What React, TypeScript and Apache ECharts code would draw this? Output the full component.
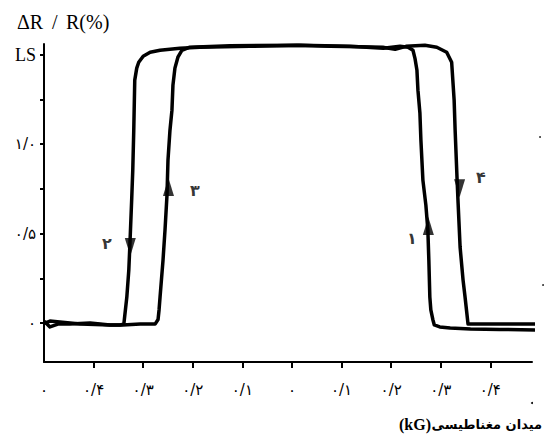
import React, { useEffect, useRef } from "react";
import * as echarts from "echarts";

// ---- axis ticks & labels ----
const xTickValues = [-0.4, -0.3, -0.2, -0.1, 0, 0.1, 0.2, 0.3, 0.4];
const xLabelValues = [-0.5, -0.4, -0.3, -0.2, -0.1, 0, 0.1, 0.2, 0.3, 0.4];
const xLabelTexts = ["۰", "۰/۴", "۰/۳", "۰/۲", "۰/۱", "۰", "۰/۱", "۰/۲", "۰/۳", "۰/۴"];
const yTickValues = [0, 0.25, 0.5, 0.75, 1, 1.25, 1.5];
const yLabelValues = [0, 0.5, 1, 1.5];
const yLabelTexts = ["۰", "۰/۵", "۱/۰", "LS"];

// ---- sweep toward +H (branches ۳ and ۴) ----
const sweepUp: [number, number][] = [
  [-0.498, 0.006], [-0.488, -0.022], [-0.472, -0.006], [-0.448, -0.006], [-0.407, 0],
  [-0.367, -0.011], [-0.341, -0.011], [-0.306, -0.006], [-0.276, -0.006], [-0.27, 0.02],
  [-0.268, 0.073], [-0.266, 0.145], [-0.26, 0.352], [-0.256, 0.52], [-0.252, 0.715],
  [-0.25, 0.911], [-0.246, 1.078], [-0.242, 1.19], [-0.24, 1.33], [-0.236, 1.425],
  [-0.23, 1.486], [-0.222, 1.525], [-0.206, 1.542], [-0.125, 1.55], [0.01, 1.553],
  [0.077, 1.547], [0.137, 1.545], [0.183, 1.542], [0.208, 1.53], [0.23, 1.547],
  [0.268, 1.553], [0.292, 1.542], [0.312, 1.514], [0.322, 1.458], [0.327, 1.246],
  [0.329, 1.078], [0.333, 0.799], [0.335, 0.67], [0.339, 0.425], [0.345, 0.24],
  [0.349, 0.145], [0.353, 0.045], [0.355, -0.006], [0.369, -0.006], [0.419, -0.006],
  [0.46, -0.006], [0.494, -0.006], [0.494, -0.039],
];

// ---- sweep toward -H (branches ۱ and ۲) ----
const sweepDown: [number, number][] = [
  [0.494, -0.039], [0.419, -0.036], [0.36, -0.033], [0.319, -0.028], [0.298, -0.022],
  [0.287, -0.011], [0.284, 0.02], [0.28, 0.073], [0.278, 0.145], [0.276, 0.352],
  [0.274, 0.52], [0.27, 0.659], [0.264, 0.799], [0.26, 1.022], [0.258, 1.173],
  [0.254, 1.302], [0.252, 1.413], [0.248, 1.48], [0.244, 1.525], [0.234, 1.542],
  [0.218, 1.547], [0.184, 1.536], [0.117, 1.547], [0.016, 1.553], [-0.085, 1.547],
  [-0.186, 1.542], [-0.226, 1.536], [-0.266, 1.525], [-0.286, 1.514], [-0.3, 1.492],
  [-0.309, 1.458], [-0.313, 1.425], [-0.317, 1.358], [-0.319, 1.078], [-0.321, 0.855],
  [-0.323, 0.704], [-0.327, 0.425], [-0.329, 0.296], [-0.333, 0.145], [-0.337, 0.045],
  [-0.339, -0.006], [-0.347, -0.011], [-0.367, -0.011], [-0.427, -0.006], [-0.468, 0.006],
  [-0.488, 0.011], [-0.498, 0],
];

// ---- direction arrows ----
const arrowsUp: [number, number][] = [[-0.249, 0.76], [0.275, 0.542]];
const arrowsDown: [number, number][] = [[-0.326, 0.425], [0.338, 0.754]];

// ---- branch numbers ----
const branchNames = ["۱", "۲", "۳", "۴"];
const branchPos: [number, number][] = [[0.242, 0.475], [-0.373, 0.447], [-0.196, 0.743], [0.381, 0.816]];

// ---- titles ----
const yTitleParts = ["ΔR", "/", "R(%)"];
const xTitleUnit = "(kG)";
const xTitleText = "میدان مغناطیسی";

const fmtX = (v: number) => {
  const i = xLabelValues.findIndex((t) => Math.abs(t - v) < 1e-6);
  return i >= 0 ? xLabelTexts[i] : "";
};
const fmtY = (v: number) => {
  const i = yLabelValues.findIndex((t) => Math.abs(t - v) < 1e-6);
  if (i < 0) return "";
  return yLabelTexts[i] === "LS" ? "{ls|LS}" : yLabelTexts[i];
};

export default function App() {
  const ref = useRef<HTMLDivElement>(null);
  useEffect(() => {
    if (!ref.current) return;
    const chart = echarts.init(ref.current, undefined, { renderer: "svg" });
    const lineStyleCommon = { color: "#000", width: 3.5, join: "round" as const, cap: "round" as const };
    const serif = "Liberation Serif";
    chart.setOption({
      animation: false,
      backgroundColor: "#fff",
      grid: { left: 44, right: 13, top: 44, bottom: 82 },
      xAxis: {
        type: "value",
        min: -0.5,
        max: 0.484,
        axisLine: { show: true, onZero: false, lineStyle: { color: "#000", width: 2 } },
        axisTick: { show: true, customValues: xTickValues, length: 6, lineStyle: { color: "#000", width: 2 } },
        axisLabel: {
          show: true,
          customValues: xLabelValues,
          formatter: fmtX,
          margin: 20,
          color: "#000",
          fontSize: 15,
          fontFamily: "DejaVu Sans",
        },
        splitLine: { show: false },
      },
      yAxis: {
        type: "value",
        min: -0.218,
        max: 1.56,
        axisLine: { show: true, onZero: false, lineStyle: { color: "#000", width: 2 } },
        axisTick: { show: true, customValues: yTickValues, length: 4, lineStyle: { color: "#000", width: 2 } },
        axisLabel: {
          show: true,
          customValues: yLabelValues,
          formatter: fmtY,
          margin: 8,
          color: "#000",
          fontSize: 15,
          fontFamily: "DejaVu Sans",
          rich: { ls: { fontSize: 18, fontFamily: serif, color: "#000" } },
        },
        splitLine: { show: false },
      },
      series: [
        { type: "line", data: sweepUp, symbol: "none", clip: false, lineStyle: lineStyleCommon, z: 2 },
        { type: "line", data: sweepDown, symbol: "none", clip: false, lineStyle: lineStyleCommon, z: 2 },
        {
          type: "scatter",
          data: arrowsUp,
          symbol: "triangle",
          symbolSize: [11, 18],
          itemStyle: { color: "#000" },
          z: 3,
        },
        {
          type: "scatter",
          data: arrowsDown,
          symbol: "triangle",
          symbolSize: [11, 18],
          symbolRotate: 180,
          itemStyle: { color: "#000" },
          z: 3,
        },
        {
          type: "scatter",
          data: branchPos.map((p, i) => ({ value: p, name: branchNames[i] })),
          symbolSize: 0,
          label: {
            show: true,
            position: "inside",
            formatter: (p: any) => p.name,
            color: "#000",
            fontSize: 16,
            fontWeight: "bold",
            fontFamily: "DejaVu Sans",
          },
          z: 4,
        },
      ],
      graphic: [
        {
          type: "text",
          x: 17,
          y: 12,
          style: { text: yTitleParts[0], fontSize: 20, fontFamily: serif, fill: "#000" },
        },
        {
          type: "text",
          x: 52,
          y: 12,
          style: { text: yTitleParts[1], fontSize: 20, fontFamily: serif, fill: "#000" },
        },
        {
          type: "text",
          x: 66,
          y: 12,
          style: { text: yTitleParts[2], fontSize: 20, fontFamily: serif, fill: "#000" },
        },
        {
          type: "text",
          x: 542,
          y: 424,
          style: {
            text: xTitleText,
            fontSize: 13,
            fontWeight: "bold",
            fontFamily: "DejaVu Sans",
            fill: "#000",
            align: "right",
            verticalAlign: "middle",
          },
        },
        {
          type: "text",
          x: 431,
          y: 424,
          style: {
            text: xTitleUnit,
            fontSize: 16,
            fontWeight: "bold",
            fontFamily: serif,
            fill: "#000",
            align: "right",
            verticalAlign: "middle",
          },
        },
        { type: "circle", shape: { cx: 532, cy: 403, r: 1 }, style: { fill: "#000" } },
        { type: "circle", shape: { cx: 540, cy: 137, r: 0.8 }, style: { fill: "#000" } },
        { type: "circle", shape: { cx: 543, cy: 285, r: 0.8 }, style: { fill: "#000" } },
      ],
    });
    return () => chart.dispose();
  }, []);
  return (
    <div
      ref={ref}
      style={{ position: "fixed", left: 0, top: 0, width: 545, height: 444, background: "#fff" }}
    />
  );
}
